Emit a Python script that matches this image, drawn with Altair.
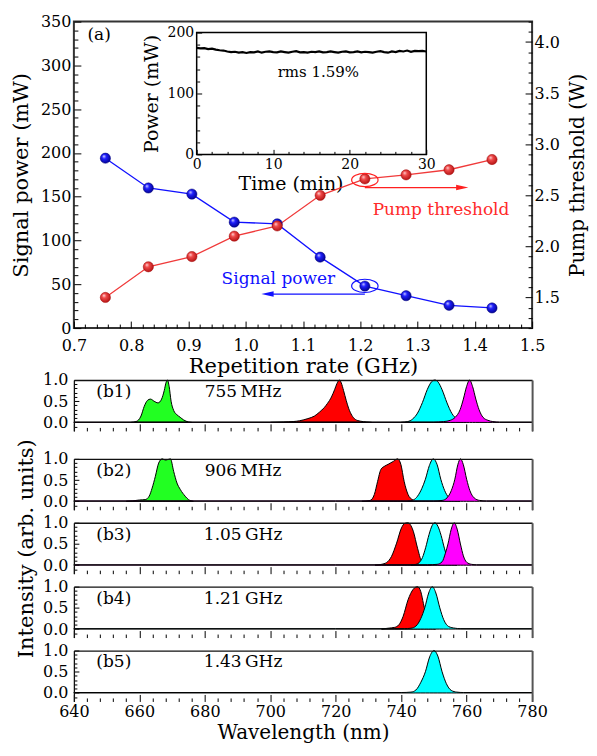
import altair as alt
import pandas as pd

FONT = "DejaVu Serif"
BLUE = "#1010ff"
RED = "#f03a3a"

# ---------------- panel (a): main data ----------------
rep_rate_ghz = [0.755, 0.830, 0.906, 0.980, 1.055, 1.130, 1.208, 1.280, 1.355, 1.430]
signal_power_mw = [194, 160, 153, 121, 119, 81, 48, 37, 26, 23]
pump_threshold_w = [1.50, 1.80, 1.90, 2.10, 2.20, 2.50, 2.66, 2.70, 2.75, 2.85]

# ---------------- inset: power stability ----------------
inset_time_min = [0, 0.5, 1, 1.5, 2, 2.5, 3, 3.5, 4, 4.5, 5, 5.5, 6, 6.5, 7, 7.5, 8, 8.5, 9, 9.5,
                  10, 10.5, 11, 11.5, 12, 12.5, 13, 13.5, 14, 14.5, 15, 15.5, 16, 16.5, 17, 17.5,
                  18, 18.5, 19, 19.5, 20, 20.5, 21, 21.5, 22, 22.5, 23, 23.5, 24, 24.5, 25, 25.5,
                  26, 26.5, 27, 27.5, 28, 28.5, 29, 29.5, 30]
inset_power_mw = [175, 174, 174.5, 173, 173.5, 172, 171, 170.5, 169, 168,
                  168.5, 167, 168, 166.5, 168, 167.5, 169, 167, 168.5, 169,
                  168, 167.5, 169, 168, 167, 168.5, 169.5, 167.5, 168, 167,
                  168.5, 168, 169, 167.5, 168, 169, 168, 167, 168.5, 169,
                  167.5, 168, 169, 167.5, 168.5, 168, 167, 168.5, 169.5, 168,
                  167, 169, 168, 170, 169, 170.5, 168.5, 170, 169.5, 170, 169]

# ---------------- tick labels ----------------
rate_ticks = [0.7, 0.8, 0.9, 1.0, 1.1, 1.2, 1.3, 1.4, 1.5]
signal_ticks = [0, 50, 100, 150, 200, 250, 300, 350]
pump_ticks = [1.5, 2.0, 2.5, 3.0, 3.5, 4.0]
inset_time_ticks = [0, 10, 20, 30]
inset_power_ticks = [0, 100, 200]
wl_ticks = [640, 660, 680, 700, 720, 740, 760, 780]
int_ticks = [0.0, 0.5, 1.0]

rate_minor = [round(0.7 + 0.02 * i, 2) for i in range(41) if i % 5]
signal_minor = [v for v in range(0, 351, 10) if v % 50]
pump_minor = [round(1.2 + 0.1 * i, 1) for i in range(31) if i % 5 != 3]
inset_time_minor = [v for v in range(0, 31, 2) if v % 10]
inset_power_minor = [v for v in range(0, 201, 20) if v % 100]
wl_minor = [v for v in range(640, 781, 4) if v % 20]
int_minor = [-0.1, 0.1, 0.2, 0.3, 0.4, 0.6, 0.7, 0.8, 0.9]

# ---------------- spectra (b1)-(b5) ----------------
B1_GREEN_WL = [657.5, 659.0, 660.5, 661.5, 662.5, 663.4, 664.5, 665.7, 666.8, 667.6, 668.2, 668.6, 669.1, 669.7, 670.5, 671.5, 672.5, 673.5, 675.0, 676.0]
B1_GREEN_I = [0.00, 0.02, 0.15, 0.38, 0.52, 0.55, 0.50, 0.46, 0.55, 0.75, 0.95, 1.00, 0.85, 0.50, 0.28, 0.18, 0.12, 0.06, 0.01, 0.00]
B1_RED_WL = [700, 704, 707, 709, 711.5, 713.5, 715, 716.5, 717.5, 718.7, 719.7, 720.4, 721.1, 721.7, 722.4, 723.2, 724, 724.9, 726, 727.5, 729.5, 731]
B1_RED_I = [0.00, 0.01, 0.02, 0.04, 0.09, 0.15, 0.24, 0.35, 0.45, 0.60, 0.78, 0.92, 1.00, 0.93, 0.75, 0.52, 0.32, 0.17, 0.07, 0.03, 0.01, 0.00]
B1_CYAN_WL = [740, 742, 743.5, 745, 746.5, 748, 749.3, 750.3, 751.3, 752.5, 754, 755.5, 757, 758.5, 760]
B1_CYAN_I = [0.00, 0.02, 0.08, 0.22, 0.47, 0.78, 0.96, 1.00, 0.95, 0.77, 0.46, 0.21, 0.08, 0.02, 0.00]
B1_MAG_WL = [640, 700, 750, 753, 755, 756.5, 758, 759, 760, 760.9, 761.8, 762.8, 763.8, 765, 766.5, 768, 770, 780]
B1_MAG_I = [0.01, 0.01, 0.01, 0.02, 0.05, 0.12, 0.30, 0.55, 0.85, 1.00, 0.85, 0.55, 0.30, 0.12, 0.05, 0.02, 0.01, 0.01]

B2_GREEN_WL = [656, 658, 660, 661.8, 663, 663.9, 664.9, 665.9, 667.0, 668.0, 669.5, 670.5, 671.5, 672.5, 674.0, 675.0, 676.5]
B2_GREEN_I = [0.00, 0.01, 0.03, 0.04, 0.12, 0.31, 0.59, 0.90, 1.00, 0.97, 1.00, 0.70, 0.43, 0.28, 0.12, 0.04, 0.00]
B2_RED_WL = [728, 730.5, 731.8, 732.8, 733.8, 735.0, 736.0, 737.6, 738.9, 739.9, 740.9, 742.1, 743.4, 745]
B2_RED_I = [0.00, 0.02, 0.16, 0.47, 0.75, 0.83, 0.87, 0.94, 1.00, 0.87, 0.47, 0.16, 0.04, 0.00]
B2_CYAN_WL = [742, 743.7, 745, 746.3, 747.4, 748.6, 749.8, 751, 752.1, 753.3, 754.5, 756, 758]
B2_CYAN_I = [0.00, 0.03, 0.12, 0.30, 0.52, 0.84, 1.00, 0.86, 0.52, 0.25, 0.09, 0.02, 0.00]
B2_MAG_WL = [640, 720, 750, 752.5, 754, 755.3, 756.4, 757.3, 758.1, 759, 760, 761, 762.3, 764, 766, 780]
B2_MAG_I = [0.01, 0.01, 0.01, 0.02, 0.08, 0.25, 0.52, 0.86, 1.00, 0.86, 0.52, 0.25, 0.08, 0.02, 0.01, 0.01]

B3_RED_WL = [732, 734, 735.5, 737, 738.6, 740.1, 741, 742, 743, 743.7, 745, 746.2, 747.5, 749]
B3_RED_I = [0.00, 0.02, 0.06, 0.20, 0.52, 0.88, 0.98, 1.00, 0.93, 0.80, 0.40, 0.10, 0.02, 0.00]
B3_CYAN_WL = [743, 744.5, 745.5, 746.5, 747.5, 748.5, 749.5, 750.3, 751.2, 752.2, 753.2, 754.2, 755.5, 757]
B3_CYAN_I = [0.00, 0.02, 0.06, 0.18, 0.42, 0.72, 0.94, 1.00, 0.92, 0.70, 0.40, 0.16, 0.04, 0.00]
B3_MAG_WL = [640, 720, 748, 751, 752.5, 753.5, 754.3, 755.3, 756.2, 757.1, 758.1, 759, 760, 761.5, 763, 780]
B3_MAG_I = [0.01, 0.01, 0.01, 0.02, 0.08, 0.28, 0.50, 0.85, 1.00, 0.85, 0.50, 0.22, 0.07, 0.02, 0.01, 0.01]

B4_RED_WL = [734, 736, 738, 739.3, 740.6, 742.1, 743.7, 745, 746, 746.8, 747.8, 749, 750.5]
B4_RED_I = [0.00, 0.02, 0.04, 0.10, 0.30, 0.69, 0.94, 1.00, 0.88, 0.60, 0.25, 0.06, 0.00]
B4_CYAN_WL = [640, 720, 741, 743, 744.5, 746, 747.2, 748.4, 749.5, 750.6, 751.8, 753, 754.5, 756.5, 758, 780]
B4_CYAN_I = [0.01, 0.01, 0.01, 0.02, 0.07, 0.25, 0.50, 0.85, 1.00, 0.85, 0.50, 0.22, 0.06, 0.02, 0.01, 0.01]

B5_CYAN_WL = [640, 700, 740, 743, 744.5, 746, 747.4, 748.7, 750, 751.2, 752.5, 753.8, 755.3, 757, 759, 780]
B5_CYAN_I = [0.01, 0.01, 0.01, 0.02, 0.07, 0.25, 0.50, 0.85, 1.00, 0.87, 0.50, 0.22, 0.06, 0.02, 0.01, 0.01]

panel_tags = ["(b1)", "(b2)", "(b3)", "(b4)", "(b5)"]
panel_rates = ["755\u2009MHz", "906\u2009MHz", "1.05\u2009GHz", "1.21\u2009GHz", "1.43\u2009GHz"]

GREEN, SRED, CYAN, MAG = "#22ff22", "#ff0000", "#00ffff", "#ff00ff"

# ---------------- layout constants ----------------
W = 459
H_TOP = 307
H_B = 51

ELLIPSE = "M-1,0C-1,-0.276,-0.552,-0.5,0,-0.5C0.552,-0.5,1,-0.276,1,0C1,0.276,0.552,0.5,0,0.5C-0.552,0.5,-1,0.276,-1,0Z"
HEAD_R = "M-1,-0.45L1,0L-1,0.45Z"
HEAD_L = "M1,-0.45L-1,0L1,0.45Z"


def tick_axis(orient, values, size, shift=0, **kw):
    """Axis whose ticks point into the panel (axis line moved inward by the tick length)."""
    kw.setdefault("title", None)
    return alt.Axis(orient=orient, values=values, tickSize=size, offset=-(size + shift),
                    domain=False, grid=False, **kw)


xm = alt.Scale(domain=[0.7, 1.5], nice=False)
ysig = alt.Scale(domain=[0, 350], nice=False)
ypump = alt.Scale(domain=[1.2, 4.2], nice=False)
xin = alt.Scale(domain=[0, 30], range=[123, 353], nice=False)
yin = alt.Scale(domain=[0, 200], range=[133, 11], nice=False)

main_df = pd.DataFrame({"rate": rep_rate_ghz, "sig": signal_power_mw, "pump": pump_threshold_w})
inset_df = pd.DataFrame({"t": inset_time_min, "p": inset_power_mw})
dummy = pd.DataFrame({"a": [0]})

BLUE_GRAD = alt.RadialGradient(gradient="radial", x1=0.35, y1=0.3, r1=0, x2=0.45, y2=0.45, r2=0.6,
                               stops=[alt.GradientStop(offset=0, color="#d8d8ff"),
                                      alt.GradientStop(offset=0.35, color="#2020ff"),
                                      alt.GradientStop(offset=1, color="#00008a")])
RED_GRAD = alt.RadialGradient(gradient="radial", x1=0.35, y1=0.3, r1=0, x2=0.45, y2=0.45, r2=0.6,
                              stops=[alt.GradientStop(offset=0, color="#ffdada"),
                                     alt.GradientStop(offset=0.35, color="#f04a4a"),
                                     alt.GradientStop(offset=1, color="#b01010")])

inset_frame = alt.Chart(dummy).mark_rect(fillOpacity=0, stroke="black", strokeWidth=1.5).encode(
    x=alt.XDatum(0, type="quantitative", scale=xin,
                 axis=tick_axis("bottom", inset_time_minor, 3, shift=174, labels=False)),
    x2=alt.X2Datum(30),
    y=alt.YDatum(0, type="quantitative", scale=yin,
                 axis=tick_axis("left", inset_power_minor, 3, shift=123, labels=False)),
    y2=alt.Y2Datum(200),
)

inset_line = alt.Chart(inset_df).mark_line(color="black", strokeWidth=2.2).encode(
    x=alt.X("t:Q", scale=xin,
            axis=tick_axis("bottom", inset_time_ticks, 5, shift=174, labelFontSize=14, labelPadding=3,
                           title="Time (min)", titleFontSize=19, titlePadding=3, titleX=217)),
    y=alt.Y("p:Q", scale=yin,
            axis=tick_axis("left", inset_power_ticks, 5, shift=123, labelFontSize=14, labelPadding=3,
                           title="Power (mW)", titleFontSize=19, titlePadding=6)),
)

blue_line = alt.Chart(main_df).mark_line(color=BLUE, strokeWidth=1.3).encode(
    x=alt.X("rate:Q", scale=xm,
            axis=tick_axis("bottom", rate_ticks, 7, format=".1f", labelPadding=9,
                           title="Repetition rate (GHz)", titlePadding=2)),
    y=alt.Y("sig:Q", scale=ysig,
            axis=tick_axis("left", signal_ticks, 7, labelPadding=3,
                           title="Signal power (mW)", titlePadding=9)),
)
blue_pts = alt.Chart(main_df).mark_circle(size=105, fill=BLUE_GRAD, opacity=1, stroke="#00007a", strokeWidth=0.5).encode(
    x=alt.X("rate:Q", scale=xm, axis=tick_axis("bottom", rate_minor, 4, labels=False)),
    y=alt.Y("sig:Q", scale=ysig, axis=tick_axis("left", signal_minor, 4, labels=False)),
)
red_line = alt.Chart(main_df).mark_line(color=RED, strokeWidth=1.3).encode(
    x=alt.X("rate:Q", scale=xm, axis=None),
    y=alt.Y("pump:Q", scale=ypump,
            axis=tick_axis("right", pump_ticks, 7, format=".1f", labelPadding=2,
                           title="Pump threshold (W)", titlePadding=8, titleFontSize=20,
                           titleAngle=270, titleBaseline="top")),
)
red_pts = alt.Chart(main_df).mark_circle(size=105, fill=RED_GRAD, opacity=1, stroke="#a00000", strokeWidth=0.5).encode(
    x=alt.X("rate:Q", scale=xm, axis=None),
    y=alt.Y("pump:Q", scale=ypump, axis=tick_axis("right", pump_minor, 4, labels=False)),
)


def text_layer(x, y, label, xs, ys, color, size):
    d = pd.DataFrame({"x": [x], "y": [y], "s": [label]})
    return alt.Chart(d).mark_text(font=FONT, fontSize=size, color=color, align="center", baseline="middle").encode(
        x=alt.X("x:Q", scale=xs, axis=None), y=alt.Y("y:Q", scale=ys, axis=None), text="s:N")


def ellipse_layer(x, y, ys, color):
    d = pd.DataFrame({"x": [x], "y": [y]})
    return alt.Chart(d).mark_point(shape=ELLIPSE, size=700, filled=False, color=color, strokeWidth=1.2, opacity=1).encode(
        x=alt.X("x:Q", scale=xm, axis=None), y=alt.Y("y:Q", scale=ys, axis=None))


def arrow_layers(x0, x1, y, ys, color, head):
    d = pd.DataFrame({"x0": [x0], "x1": [x1], "y": [y]})
    line = alt.Chart(d).mark_rule(color=color, strokeWidth=1.3).encode(
        x=alt.X("x0:Q", scale=xm, axis=None), x2="x1:Q", y=alt.Y("y:Q", scale=ys, axis=None))
    tip = alt.Chart(d).mark_point(shape=head, size=150, filled=True, color=color, opacity=1).encode(
        x=alt.X("x1:Q", scale=xm, axis=None), y=alt.Y("y:Q", scale=ys, axis=None))
    return [line, tip]


top_layers = [inset_frame, inset_line, blue_line, red_line, blue_pts, red_pts,
              text_layer(0.744, 335, "(a)", xm, ysig, "black", 17),
              text_layer(1.057, 56, "Signal power", xm, ysig, BLUE, 17),
              text_layer(1.341, 2.36, "Pump threshold", xm, ypump, "#ff2a2a", 17),
              text_layer(15.9, 136, "rms 1.59%", xin, yin, "black", 15),
              ellipse_layer(1.208, 2.65, ypump, "#ff2020"),
              ellipse_layer(1.208, 48.2, ysig, BLUE)]
top_layers += arrow_layers(1.208, 1.378, 2.575, ypump, "#ff2020", HEAD_R)
top_layers += arrow_layers(1.208, 1.038, 38.8, ysig, BLUE, HEAD_L)

top = alt.layer(*top_layers).resolve_scale(x="independent", y="independent").resolve_axis(
    x="independent", y="independent").properties(
    width=W, height=H_TOP, view=alt.ViewBackground(stroke="#333333", strokeWidth=2))

# ---------------- spectra panels ----------------
xs_b = alt.Scale(domain=[640, 780], nice=False)
ys_b = alt.Scale(domain=[-0.2, 1.0], nice=False)
carrier_df = pd.DataFrame({"w": [700], "i": [0.5]})


def carrier(xaxis, yaxis):
    return alt.Chart(carrier_df).mark_point(opacity=0).encode(
        x=alt.X("w:Q", scale=xs_b, axis=xaxis), y=alt.Y("i:Q", scale=ys_b, axis=yaxis))


def b_panel(peaks, idx, show_x=False, ytitle=None):
    layers = []
    for wl, inten, col in peaks:
        d = pd.DataFrame({"w": wl, "i": inten})
        layers.append(alt.Chart(d).mark_area(fill=col, fillOpacity=1, stroke="black", strokeWidth=1,
                                             interpolate="monotone").encode(
            x=alt.X("w:Q", scale=xs_b, axis=None), y=alt.Y("i:Q", scale=ys_b, axis=None)))
    xmaj_kw = dict(labels=show_x, labelPadding=2, format="d")
    if show_x:
        xmaj_kw.update(title="Wavelength (nm)", titlePadding=3, titleFontSize=20)
    ymaj_kw = dict(format=".1f", labelPadding=6)
    if ytitle:
        ymaj_kw.update(title=ytitle, titlePadding=6)
    layers.append(carrier(tick_axis("bottom", wl_ticks, 7, **xmaj_kw),
                          tick_axis("left", int_ticks, 5, **ymaj_kw)))
    layers.append(carrier(tick_axis("bottom", wl_minor, 3.5, labels=False),
                          tick_axis("left", int_minor, 3, labels=False)))
    layers.append(carrier(alt.Axis(orient="top", ticks=False, labels=False, title=None, grid=False,
                                   domainColor="#111111", domainWidth=1.3, zindex=1),
                          alt.Axis(orient="left", ticks=False, labels=False, title=None, grid=False,
                                   domainColor="#111111", domainWidth=1.3, zindex=1)))
    layers.append(carrier(None, alt.Axis(orient="right", ticks=False, labels=False, title=None, grid=False,
                                         domainColor="#555555", domainWidth=2, zindex=1)))
    tdf = pd.DataFrame({"w": [652.2, 691.7], "i": [0.72, 0.72], "s": [panel_tags[idx], panel_rates[idx]]})
    layers.append(alt.Chart(tdf).mark_text(font=FONT, fontSize=17, color="black", align="center",
                                           baseline="middle").encode(
        x=alt.X("w:Q", scale=xs_b, axis=None), y=alt.Y("i:Q", scale=ys_b, axis=None), text="s:N"))
    return alt.layer(*layers).resolve_axis(x="independent", y="independent").properties(width=W, height=H_B)


b1 = b_panel([(B1_GREEN_WL, B1_GREEN_I, GREEN), (B1_RED_WL, B1_RED_I, SRED),
              (B1_CYAN_WL, B1_CYAN_I, CYAN), (B1_MAG_WL, B1_MAG_I, MAG)], 0)
b2 = b_panel([(B2_GREEN_WL, B2_GREEN_I, GREEN), (B2_RED_WL, B2_RED_I, SRED),
              (B2_CYAN_WL, B2_CYAN_I, CYAN), (B2_MAG_WL, B2_MAG_I, MAG)], 1)
b3 = b_panel([(B3_RED_WL, B3_RED_I, SRED), (B3_CYAN_WL, B3_CYAN_I, CYAN),
              (B3_MAG_WL, B3_MAG_I, MAG)], 2, ytitle="Intensity (arb. units)")
b4 = b_panel([(B4_RED_WL, B4_RED_I, SRED), (B4_CYAN_WL, B4_CYAN_I, CYAN)], 3)
b5 = b_panel([(B5_CYAN_WL, B5_CYAN_I, CYAN)], 4, show_x=True)


def spacer(h):
    return alt.Chart(carrier_df).mark_point(opacity=0).encode(
        x=alt.X("w:Q", axis=None), y=alt.Y("i:Q", axis=None)).properties(width=W, height=h)


chart = alt.vconcat(top, spacer(52), b1, spacer(28), b2, spacer(13), b3, spacer(13), b4, spacer(13), b5,
                    spacing=0, bounds="flush").properties(
    padding={"left": 1, "top": 4, "right": 0, "bottom": 0}
).configure(font=FONT).configure_view(strokeWidth=0).configure_axis(
    labelFont=FONT, titleFont=FONT, labelColor="black", titleColor="black", tickColor="black",
    domainColor="black", grid=False, labelFlush=False, labelOverlap=False, titleFontWeight="normal",
    labelFontSize=16, titleFontSize=21, tickWidth=1
)

chart.save("out.html", embed_options={"renderer": "svg", "actions": False})
